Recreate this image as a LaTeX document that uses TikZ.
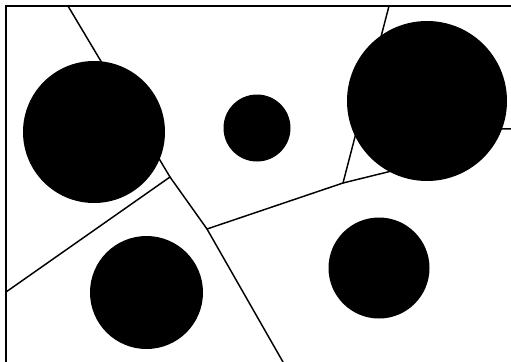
\documentclass[tikz,border=0pt]{standalone}
\usetikzlibrary{calc}
\begin{document}
\begin{tikzpicture}[x=0.75pt,y=-0.75pt,
  edge/.style={line width=1.1pt,line cap=round},
  frame/.style={line width=1.9pt},
  disc/.style={fill=black}]
  \useasboundingbox (0,0) rectangle (511,361);
  \fill[white] (0,0) rectangle (511,361);
  % frame (left and top sides only)
  \draw[frame] (6,365) -- (6,6) -- (515,6);
  % vertices and border ends of the cells
  \coordinate (vA) at (170,177);
  \coordinate (vB) at (207,229);
  \coordinate (vC) at (343,183);
  \coordinate (top1) at (68,6);
  \coordinate (top2) at (389,6);
  \coordinate (left1) at (6,292);
  \coordinate (bot1) at (283,362);
  \coordinate (right1) at (512,129);
  \coordinate (inR) at (420,164);
  \coordinate (inR2) at (470,128);
  % cell edges
  \draw[edge] (top1) -- (vA) -- (vB) -- (bot1);
  \draw[edge] (vA) -- (left1);
  \draw[edge] (vB) -- (vC) -- (inR);
  \draw[edge] (vC) -- (top2);
  \draw[edge] (inR2) -- (right1);
  % discs
  \fill[disc] (94,132) circle (71);
  \fill[disc] (257,128) circle (33.5);
  \fill[disc] (427,101) circle (80);
  \fill[disc] (146.5,292.5) circle (56.5);
  \fill[disc] (379,268) circle (50.5);
\end{tikzpicture}
\end{document}
